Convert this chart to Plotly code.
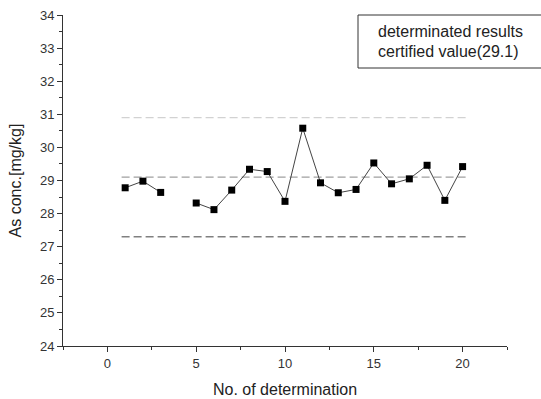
import plotly.graph_objects as go

det_no = [1, 2, 3, 4, 5, 6, 7, 8, 9, 10, 11, 12, 13, 14, 15, 16, 17, 18, 19, 20]
as_conc = [28.78, 28.98, 28.64, None, 28.32, 28.12, 28.71, 29.34, 29.27, 28.37,
           30.58, 28.93, 28.63, 28.73, 29.53, 28.90, 29.05, 29.46, 28.40, 29.42]
certified = 29.1
upper_lim = 30.9
lower_lim = 27.3
line_x = [0.8, 20.2]
legend_lines = ["determinated results", "certified value(29.1)"]

FONT = "Liberation Sans, Arial"

fig = go.Figure()
fig.add_trace(go.Scatter(x=line_x, y=[upper_lim, upper_lim], mode="lines",
                         line=dict(color="#d2d2d2", width=1.3, dash="8px,4px"), showlegend=False))
fig.add_trace(go.Scatter(x=line_x, y=[certified, certified], mode="lines",
                         line=dict(color="#a0a0a0", width=1.3, dash="8px,4px"), showlegend=False))
fig.add_trace(go.Scatter(x=line_x, y=[lower_lim, lower_lim], mode="lines",
                         line=dict(color="#808080", width=1.3, dash="8px,4px"), showlegend=False))
fig.add_trace(go.Scatter(x=det_no, y=as_conc, mode="lines+markers",
                         line=dict(color="#444444", width=1),
                         marker=dict(symbol="square", size=7, color="black"),
                         connectgaps=False, showlegend=False))

axis_common = dict(showline=True, linecolor="#333333", linewidth=1, ticks="outside",
                   ticklen=5, tickcolor="#333333", showgrid=False, zeroline=False,
                   tickfont=dict(family=FONT, size=13, color="#333333"),
                   mirror=False, automargin=False)
fig.update_xaxes(range=[-2.5, 22.5], dtick=5, tick0=0,
                 minor=dict(dtick=2.5, ticks="outside", ticklen=3, tickcolor="#333333"),
                 title=dict(text="No. of determination", standoff=14,
                            font=dict(family=FONT, size=16, color="#222222")),
                 **axis_common)
fig.update_yaxes(range=[24, 34], dtick=1,
                 minor=dict(dtick=0.5, ticks="outside", ticklen=3, tickcolor="#333333"),
                 title=dict(text="As conc.[mg/kg]", standoff=14,
                            font=dict(family=FONT, size=16, color="#222222")),
                 **axis_common)

# legend box
fig.add_shape(type="rect", xref="paper", yref="paper",
              x0=(358 - 63) / 444, x1=(545 - 63) / 444, y0=1 - (68 - 15) / 331, y1=1.0,
              line=dict(color="#333333", width=1), fillcolor="white", layer="above")
fig.add_annotation(text=legend_lines[0], xref="paper", yref="paper",
                   x=(376 - 63) / 444, y=1 - (31 - 15) / 331, xanchor="left", yanchor="middle",
                   showarrow=False, font=dict(family=FONT, size=16, color="#222222"))
fig.add_annotation(text=legend_lines[1], xref="paper", yref="paper",
                   x=(376 - 63) / 444, y=1 - (52 - 15) / 331, xanchor="left", yanchor="middle",
                   showarrow=False, font=dict(family=FONT, size=16, color="#222222"))

fig.update_layout(width=541, height=399, margin=dict(l=63, r=34, t=15, b=53),
                  plot_bgcolor="white", paper_bgcolor="white")
fig.write_html("out.html")
